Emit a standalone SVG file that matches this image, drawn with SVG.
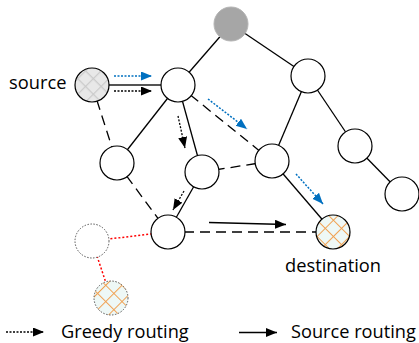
<svg xmlns="http://www.w3.org/2000/svg" width="419" height="343" viewBox="0 0 419 343">
<style>
.node{fill:#fff;stroke:#000;stroke-width:1.2}
.solid{stroke:#000;stroke-width:1.3;fill:none}
.dash{stroke:#000;stroke-width:1.3;stroke-dasharray:10 6;fill:none}
.red{stroke:#ff0000;stroke-width:1.5;stroke-dasharray:2 2;fill:none}
.greedy{stroke:#000;stroke-width:1.3;stroke-dasharray:2 1.5;fill:none;marker-end:url(#ahBlack)}
.blue{stroke:#0070c0;stroke-width:1.5;stroke-dasharray:2 1.5;fill:none;marker-end:url(#ahBlue)}
.src{stroke:#000;stroke-width:1.3;fill:none;marker-end:url(#ahBlack)}
.ghost{fill:#fff;stroke:#555;stroke-width:1;stroke-dasharray:1.5 1.5}
text{font-family:"Open Sans","Liberation Sans",sans-serif;font-size:18.3px;fill:#000}
.leg{font-size:18.2px}
</style>
<defs>
<marker id="ahBlack" markerUnits="userSpaceOnUse" markerWidth="12" markerHeight="10" refX="11" refY="4.5" orient="auto">
<path d="M0,0 L11,4.5 L0,9 z" fill="#000"/>
</marker>
<marker id="ahBlue" markerUnits="userSpaceOnUse" markerWidth="12" markerHeight="10" refX="11" refY="4.5" orient="auto">
<path d="M0,0 L11,4.5 L0,9 z" fill="#0070c0"/>
</marker>
<pattern id="hatchGray" patternUnits="userSpaceOnUse" width="11" height="11" patternTransform="rotate(45)">
<rect width="11" height="11" fill="#e8e8e8"/>
<path d="M0,0 H11 M0,0 V11" stroke="#cacaca" stroke-width="2.4"/>
</pattern>
<pattern id="hatchOrange" patternUnits="userSpaceOnUse" width="11.5" height="11.5" patternTransform="rotate(45)">
<rect width="11.5" height="11.5" fill="#eef8f6"/>
<path d="M0,0 H11.5 M0,0 V11.5" stroke="#f0a050" stroke-width="2"/>
</pattern>
</defs>
<g id="connectors">
<line class="solid" x1="231" y1="24" x2="178" y2="85"/>
<line class="solid" x1="231" y1="24" x2="308" y2="76"/>
<line class="solid" x1="178" y1="85" x2="117" y2="163"/>
<line class="solid" x1="178" y1="85" x2="202" y2="172"/>
<line class="solid" x1="308" y1="76" x2="272" y2="161"/>
<line class="solid" x1="308" y1="76" x2="355" y2="146"/>
<line class="solid" x1="355" y1="146" x2="402" y2="194"/>
<line class="solid" x1="272" y1="161" x2="333" y2="232"/>
<line class="solid" x1="202" y1="172" x2="168" y2="232"/>
<line x1="92" y1="85" x2="178" y2="85" stroke="#555" stroke-width="2"/>
<line class="dash" x1="92" y1="85" x2="117" y2="163"/>
<line class="dash" x1="178" y1="85" x2="272" y2="161"/>
<line class="dash" x1="272" y1="161" x2="202" y2="172"/>
<line class="dash" x1="117" y1="163" x2="168" y2="232"/>
<line class="dash" x1="168" y1="232" x2="333" y2="232"/>
<line class="red" x1="168" y1="232" x2="92" y2="241"/>
<line class="red" x1="92" y1="241" x2="111" y2="298"/>
<line class="blue" x1="114" y1="76" x2="152" y2="76"/>
<line class="greedy" x1="114" y1="91" x2="152" y2="91"/>
<line class="blue" x1="208" y1="99" x2="247" y2="129"/>
<line class="greedy" x1="178" y1="116" x2="185" y2="148"/>
<line class="greedy" x1="184" y1="191" x2="173" y2="210"/>
<line class="blue" x1="296" y1="174" x2="323" y2="204"/>
<line class="src" x1="209" y1="222.5" x2="286" y2="224.5"/>
<line class="greedy" x1="6" y1="332" x2="44" y2="332"/>
<line class="src" x1="239" y1="332.5" x2="277" y2="332.5"/>
</g>
<g id="top"><circle cx="231" cy="24" r="17" fill="#a6a6a6" stroke="#b4b4b4" stroke-width="1"/></g>
<g id="source"><circle cx="92" cy="85" r="17" fill="url(#hatchGray)" stroke="#000" stroke-width="1.2"/><text x="9" y="89">source</text></g>
<g id="nA"><circle class="node" cx="178" cy="85" r="17"/></g>
<g id="nR1"><circle class="node" cx="308" cy="76" r="17"/></g>
<g id="nR2"><circle class="node" cx="355" cy="146" r="17"/></g>
<g id="nR3"><circle class="node" cx="402" cy="194" r="17"/></g>
<g id="nB"><circle class="node" cx="117" cy="163" r="17"/></g>
<g id="nC"><circle class="node" cx="202" cy="172" r="17"/></g>
<g id="nD"><circle class="node" cx="272" cy="161" r="17"/></g>
<g id="nE"><circle class="node" cx="168" cy="232" r="17"/></g>
<g id="destination"><circle cx="333" cy="232" r="17" fill="url(#hatchOrange)" stroke="#000" stroke-width="1.2"/><text x="285" y="272">destination</text></g>
<g id="ghost"><circle class="ghost" cx="92" cy="241" r="17"/></g>
<g id="orange"><circle cx="111" cy="298" r="17" fill="url(#hatchOrange)" stroke="#555" stroke-width="1" stroke-dasharray="1.5 1.5"/></g>
<g id="legend">
<text class="leg" x="61" y="337.5">Greedy routing</text>
<text class="leg" x="291" y="337.5">Source routing</text>
</g>
</svg>
